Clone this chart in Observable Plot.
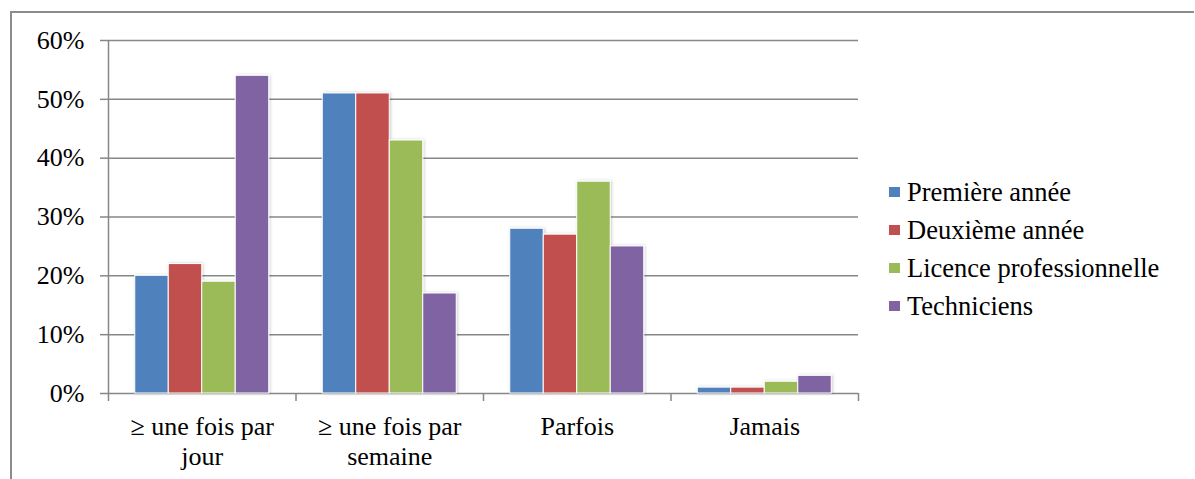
<!DOCTYPE html>
<html><head><meta charset="utf-8">
<script src="https://cdn.jsdelivr.net/npm/d3@7"></script>
<script src="https://cdn.jsdelivr.net/npm/@observablehq/plot@0.6"></script>
<style>
body{margin:0;background:#fff;}
#wrap{position:relative;width:1195px;height:479px;overflow:hidden;font-family:"Liberation Serif",Tinos,"Times New Roman",Times,"DejaVu Serif",serif;}
#frame{position:absolute;left:10px;top:11px;width:1184px;height:480px;border-left:2px solid #8c8c8c;border-top:2px solid #8c8c8c;box-sizing:border-box;}
#chart{position:absolute;left:0;top:0;}
#legend{position:absolute;left:889px;top:173px;font-size:26.5px;color:#000;}
.row{display:flex;align-items:center;height:38px;white-space:nowrap;}
.sw{width:11px;height:10px;margin-right:7px;flex:none;}
</style></head><body>
<div id="wrap"><div id="frame"></div><div id="chart"></div><div id="legend"></div></div>
<script>
const categories = ["≥ une fois par\njour", "≥ une fois par\nsemaine", "Parfois", "Jamais"];
const series = ["Première année", "Deuxième année", "Licence professionnelle", "Techniciens"];
const colors = ["#4F81BD", "#C0504D", "#9BBB59", "#8064A2"];
const premiere = [20, 51, 28, 1];
const deuxieme = [22, 51, 27, 1];
const licence = [19, 43, 36, 2];
const techniciens = [54, 17, 25, 3];
const yTicks = [0, 10, 20, 30, 40, 50, 60];

const seriesValues = [premiere, deuxieme, licence, techniciens];
const groupPad = 0.1427;
const barW = (1 - 2 * groupPad) / series.length;
const data = [];
categories.forEach((c, ci) => {
  series.forEach((s, si) => {
    data.push({cat: c, series: s, value: seriesValues[si][ci],
      x1: ci + groupPad + si * barW, x2: ci + groupPad + (si + 1) * barW});
  });
});
const boundaries = d3.range(categories.length + 1);
const centers = categories.map((c, i) => i + 0.5);
const gray = "#878787";
const fam = '"Liberation Serif",Tinos,"Times New Roman",Times,"DejaVu Serif",serif';

const plot = Plot.plot({
  width: 1195, height: 479,
  marginLeft: 108, marginRight: 337, marginTop: 40, marginBottom: 86,
  style: {fontFamily: fam, fontSize: "26px", color: "#000", background: "transparent"},
  x: {domain: [0, categories.length], axis: null, label: null},
  y: {domain: [0, 60], axis: null, label: null},
  color: {domain: series, range: colors},
  marks: [
    Plot.gridY(yTicks, {stroke: gray, strokeOpacity: 1, strokeWidth: 1.5}),
    Plot.axisY(yTicks, {tickSize: 8, tickPadding: 16, tickFormat: d => d + "%", stroke: gray, strokeWidth: 1.5, fill: "#000", fontSize: 26, label: null, fontFamily: fam}),
    Plot.ruleX([0], {stroke: gray, strokeWidth: 1.5}),
    Plot.axisX(boundaries, {tickSize: 8, tickFormat: () => "", stroke: gray, strokeWidth: 1.5, label: null}),
    Plot.axisX(centers, {tickSize: 0, tickPadding: 20, tickFormat: v => categories[Math.floor(v)], fill: "#000", fontSize: 26, lineHeight: 1.15, label: null, fontFamily: fam}),
    Plot.rectY(data, {x1: "x1", x2: "x2", y1: 0, y2: "value", fill: "series", stroke: "white", strokeWidth: 1})
  ]
});
document.getElementById("chart").appendChild(plot);

// soft shadow on bars
const svg = d3.select(plot);
const defs = svg.append("defs");
const f = defs.append("filter").attr("id", "barshadow").attr("x", "-20%").attr("y", "-10%").attr("width", "140%").attr("height", "120%");
f.append("feDropShadow").attr("dx", 1).attr("dy", 0).attr("stdDeviation", 1.5).attr("flood-color", "#000").attr("flood-opacity", 0.2);
svg.selectAll('g[aria-label="rect"]').attr("filter", "url(#barshadow)");

const legend = d3.select("#legend");
series.forEach((s, i) => {
  const r = legend.append("div").attr("class", "row");
  r.append("div").attr("class", "sw").style("background", colors[i]);
  r.append("span").text(s);
});
</script>
</body></html>
